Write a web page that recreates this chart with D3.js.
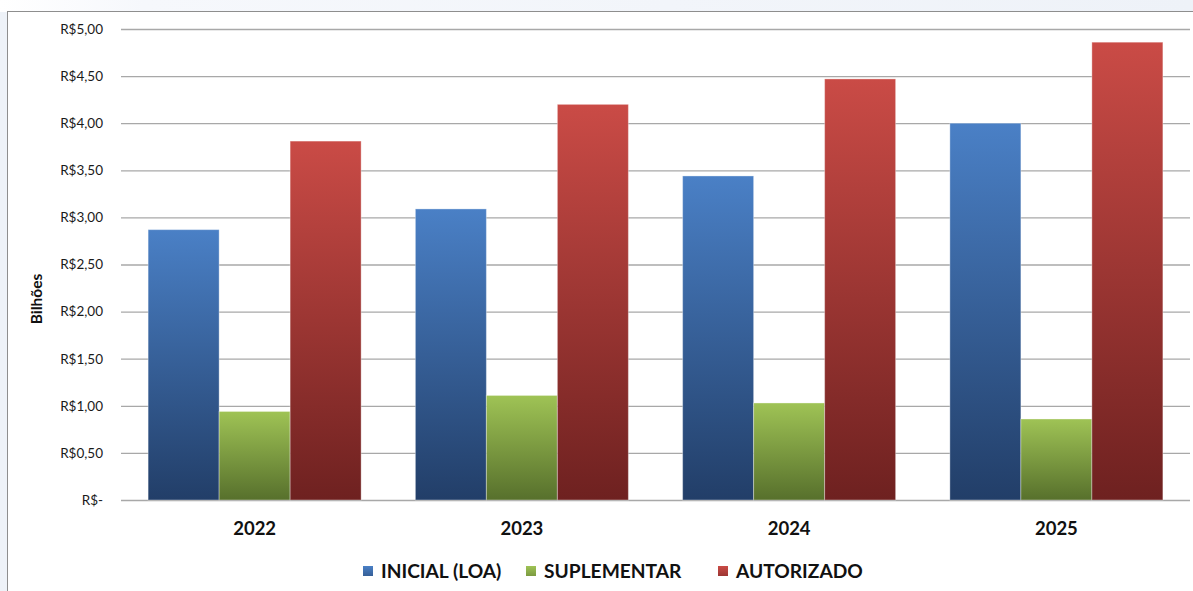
<!DOCTYPE html>
<html>
<head>
<meta charset="utf-8">
<script src="https://cdn.jsdelivr.net/npm/d3@7"></script>
<style>
  body { margin: 0; background: #eef2f8; }
  svg { display: block; font-family: Lato, "Open Sans", sans-serif; }
</style>
</head>
<body>
<div id="chart-area"></div>
<script>
// valores em bilhões de R$
var years = ["2022", "2023", "2024", "2025"]
var seriesNames = ["INICIAL (LOA)", "SUPLEMENTAR", "AUTORIZADO"]
var inicial = [2.87, 3.09, 3.44, 4.00]
var suplementar = [0.94, 1.11, 1.03, 0.86]
var autorizado = [3.81, 4.20, 4.47, 4.86]
var yTicks = [0, 0.5, 1, 1.5, 2, 2.5, 3, 3.5, 4, 4.5, 5]

var seriesValues = [inicial, suplementar, autorizado]
var colors = [
    { top: "#4a80c6", bottom: "#223e68" },
    { top: "#9fc355", bottom: "#57702c" },
    { top: "#ca4b46", bottom: "#6e2120" }
]

var W = 1193, H = 591
var plot = { left: 121, right: 1190, top: 29, bottom: 500 }

var svg = d3.select("#chart-area")
    .append("svg")
    .attr("width", W)
    .attr("height", H)

var defs = svg.append("defs")

// fundo claro com brilho no canto
var bgGrad = defs.append("linearGradient")
    .attr("id", "bg").attr("x1", 0).attr("y1", 0).attr("x2", 1).attr("y2", 0)
bgGrad.append("stop").attr("offset", "0%").attr("stop-color", "#ffffff")
bgGrad.append("stop").attr("offset", "12%").attr("stop-color", "#f6f8fc")
bgGrad.append("stop").attr("offset", "100%").attr("stop-color", "#eef2f8")
svg.append("rect").attr("width", W).attr("height", 12).attr("fill", "url(#bg)")

svg.append("rect")
    .attr("x", 7.5).attr("y", 11.5)
    .attr("width", W + 20).attr("height", H + 20)
    .attr("fill", "#ffffff")
    .attr("stroke", "#8e8e8e")
    .attr("stroke-width", 1)

colors.forEach((c, i) => {
    var lg = defs.append("linearGradient")
        .attr("id", "grad" + i)
        .attr("x1", 0).attr("y1", 0).attr("x2", 0).attr("y2", 1)
    lg.append("stop").attr("offset", "0%").attr("stop-color", c.top)
    lg.append("stop").attr("offset", "100%").attr("stop-color", c.bottom)
})

var x0 = d3.scaleBand()
    .domain(years)
    .range([plot.left, plot.right])
    .paddingInner(0.203)
    .paddingOuter(0.1015)
var x1 = d3.scaleBand()
    .domain(d3.range(seriesNames.length))
    .range([0, x0.bandwidth()])
var y = d3.scaleLinear()
    .domain([0, 5])
    .range([plot.bottom, plot.top])

var fmt = d => d === 0 ? "R$-" : "R$" + d.toFixed(2).replace(".", ",")

// linhas de grade
var yAxisCall = d3.axisLeft(y)
    .tickValues(yTicks)
    .tickSize(-(plot.right - plot.left))
    .tickPadding(18)
    .tickFormat(fmt)
var yAxis = svg.append("g")
    .attr("class", "y axis")
    .attr("transform", "translate(" + plot.left + ",0)")
    .call(yAxisCall)
yAxis.select(".domain").remove()
yAxis.selectAll("line").attr("stroke", "#a8a8a8").attr("stroke-width", 1.3)
yAxis.selectAll("text")
    .attr("font-size", "13.5px")
    .attr("fill", "#1a1a1a")
    .attr("font-family", "Lato, sans-serif")

svg.append("text")
    .attr("transform", "translate(42,299) rotate(-90)")
    .attr("text-anchor", "middle")
    .attr("font-size", "15.5px")
    .attr("font-weight", "bold")
    .attr("fill", "#111")
    .text("Bilhões")

// barras
var groups = svg.append("g").selectAll("g")
    .data(years)
    .enter().append("g")
    .attr("transform", d => "translate(" + x0(d) + ",0)")

groups.selectAll("rect")
    .data((d, i) => seriesValues.map((vals, s) => ({ s: s, v: vals[i] })))
    .enter().append("rect")
    .attr("x", d => x1(d.s))
    .attr("width", x1.bandwidth())
    .attr("y", d => y(d.v))
    .attr("height", d => y(0) - y(d.v))
    .attr("fill", d => "url(#grad" + d.s + ")")
    .attr("stroke", "rgba(255,255,255,0.35)")
    .attr("stroke-width", 1)

// eixo x
var xAxisCall = d3.axisBottom(x0).tickSize(0).tickPadding(22)
var xAxis = svg.append("g")
    .attr("class", "x axis")
    .attr("transform", "translate(0," + plot.bottom + ")")
    .call(xAxisCall)
xAxis.select(".domain").remove()
xAxis.selectAll("text")
    .attr("font-size", "18.5px")
    .attr("font-weight", "bold")
    .attr("fill", "#111")
    .attr("font-family", "Lato, sans-serif")

// legenda
colors.forEach((c, i) => {
    var lg = defs.append("linearGradient")
        .attr("id", "lg" + i)
        .attr("x1", 0).attr("y1", 0).attr("x2", 0).attr("y2", 1)
    lg.append("stop").attr("offset", "0%").attr("stop-color", c.top)
    lg.append("stop").attr("offset", "100%").attr("stop-color", d3.interpolateRgb(c.top, c.bottom)(0.5))
})
var legendX = [363, 526, 718]
var legend = svg.append("g").selectAll("g")
    .data(seriesNames)
    .enter().append("g")
    .attr("transform", (d, i) => "translate(" + legendX[i] + ",566)")
legend.append("rect")
    .attr("width", 10).attr("height", 10)
    .attr("fill", (d, i) => "url(#lg" + i + ")")
legend.append("text")
    .attr("x", 18).attr("y", 11.5)
    .attr("font-size", "19.2px")
    .attr("font-weight", "bold")
    .attr("fill", "#111")
    .text(d => d)
</script>
</body>
</html>
